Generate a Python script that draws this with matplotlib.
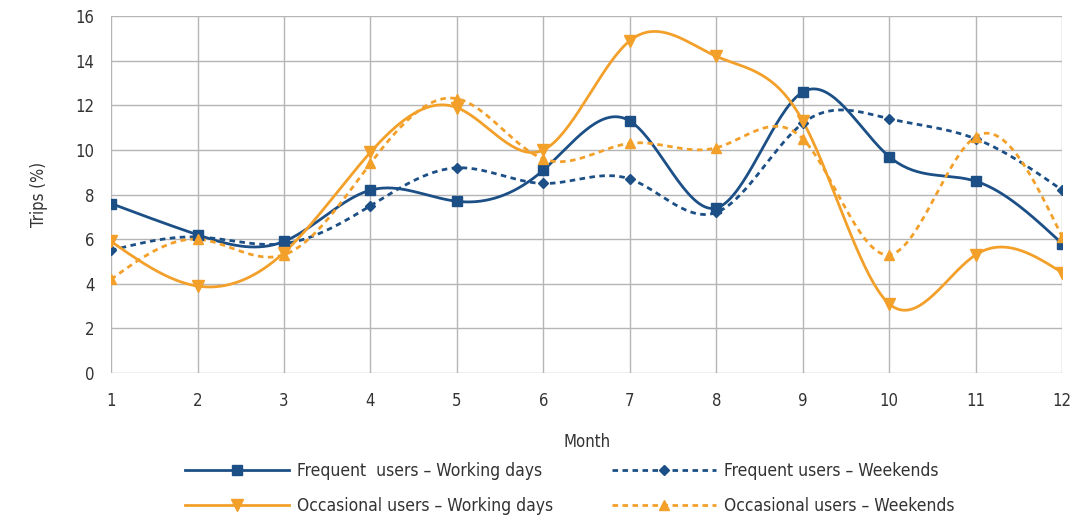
import numpy as np
import matplotlib
matplotlib.use("Agg")
import matplotlib.pyplot as plt
from matplotlib.lines import Line2D

months = [1, 2, 3, 4, 5, 6, 7, 8, 9, 10, 11, 12]
freq_work = [7.6, 6.2, 5.9, 8.2, 7.7, 9.1, 11.3, 7.4, 12.6, 9.7, 8.6, 5.8]
freq_weekend = [5.5, 6.1, 5.8, 7.5, 9.2, 8.5, 8.7, 7.2, 11.2, 11.4, 10.5, 8.2]
occ_work = [5.9, 3.9, 5.4, 9.9, 11.9, 10.0, 14.9, 14.2, 11.3, 3.1, 5.3, 4.5]
occ_weekend = [4.2, 6.0, 5.3, 9.4, 12.3, 9.6, 10.3, 10.1, 10.5, 5.3, 10.6, 6.1]
yticks = [0, 2, 4, 6, 8, 10, 12, 14, 16]

BLUE = "#1b4f86"
ORANGE = "#f3a02b"

plt.rcParams['font.family'] = ['DejaVu Sans']
plt.rcParams['font.stretch'] = 'condensed'


def natural_spline(x, y, n=400):
    x = np.asarray(x, float)
    y = np.asarray(y, float)
    m = len(x)
    h = np.diff(x)
    A = np.zeros((m, m))
    r = np.zeros(m)
    A[0, 0] = A[-1, -1] = 1
    for i in range(1, m - 1):
        A[i, i - 1] = h[i - 1]
        A[i, i] = 2 * (h[i - 1] + h[i])
        A[i, i + 1] = h[i]
        r[i] = 3 * ((y[i + 1] - y[i]) / h[i] - (y[i] - y[i - 1]) / h[i - 1])
    c = np.linalg.solve(A, r)
    xs = np.linspace(x[0], x[-1], n)
    idx = np.clip(np.searchsorted(x, xs) - 1, 0, m - 2)
    dx = xs - x[idx]
    b = (y[idx + 1] - y[idx]) / h[idx] - h[idx] * (2 * c[idx] + c[idx + 1]) / 3
    d = (c[idx + 1] - c[idx]) / (3 * h[idx])
    ys = y[idx] + b * dx + c[idx] * dx ** 2 + d * dx ** 3
    return xs, ys


fig = plt.figure(figsize=(10.74, 5.22), dpi=100)
ax = fig.add_axes([0.1034, 0.2854, 0.8856, 0.6836])

series = [
    (freq_work, BLUE, '-', 's', 7, "Frequent  users – Working days"),
    (freq_weekend, BLUE, (0, (2, 1.6)), 'D', 5.5, "Frequent users – Weekends"),
    (occ_work, ORANGE, '-', 'v', 8, "Occasional users – Working days"),
    (occ_weekend, ORANGE, (0, (2, 1.6)), '^', 7, "Occasional users – Weekends"),
]

handles = []
for vals, col, ls, mk, ms, lab in series:
    xs, ys = natural_spline(months, vals)
    ax.plot(xs, ys, color=col, ls=ls, lw=2, zorder=3)
    ax.plot(months, vals, ls='none', marker=mk, ms=ms, color=col, zorder=4)
    handles.append(Line2D([], [], color=col, ls=ls, lw=2, marker=mk, ms=ms, label=lab))

ax.set_xlim(1, 12)
ax.set_ylim(0, 16)
ax.set_xticks(months)
ax.set_yticks(yticks)
ax.grid(True, color="#b5b5b5", lw=1)
ax.set_axisbelow(True)
for s in ax.spines.values():
    s.set_visible(False)
ax.tick_params(length=0, labelsize=12, colors="#333333")
ax.tick_params(axis='x', pad=14)
ax.tick_params(axis='y', pad=12)
ax.set_ylabel("Trips (%)", fontsize=12, color="#333333", labelpad=20)
ax.set_xlabel("Month", fontsize=12, color="#333333", labelpad=16)

order = [handles[0], handles[2], handles[1], handles[3]]
fig.legend(handles=order, loc='lower left', bbox_to_anchor=(0.158, -0.016), ncol=2,
           frameon=False, fontsize=12.5, handlelength=6.0, handletextpad=0.45,
           columnspacing=3.35, labelspacing=0.95, labelcolor="#333333")

fig.savefig("out.png", dpi=100)
